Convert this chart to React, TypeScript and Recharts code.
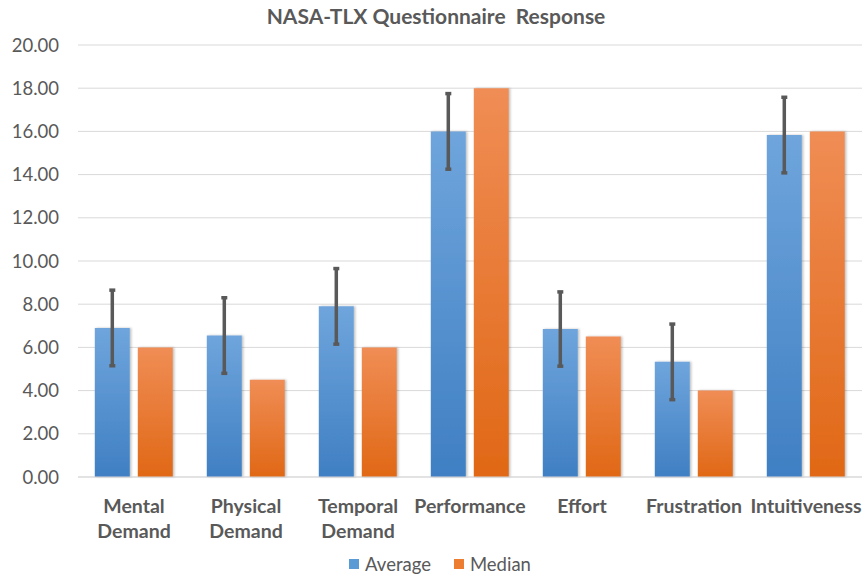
import { Bar, BarChart, CartesianGrid, ErrorBar, Legend, XAxis, YAxis } from 'recharts';

const categories = ['Mental Demand', 'Physical Demand', 'Temporal Demand', 'Performance', 'Effort', 'Frustration', 'Intuitiveness'];
const average = [6.9, 6.55, 7.9, 16.0, 6.85, 5.33, 15.83];
const median = [6.0, 4.5, 6.0, 18.0, 6.5, 4.0, 16.0];
const averageErr = [1.75, 1.75, 1.75, 1.75, 1.72, 1.75, 1.75];
const yTicks = [0, 2, 4, 6, 8, 10, 12, 14, 16, 18, 20];

const data = categories.map((name, i) => ({
  name,
  average: average[i],
  median: median[i],
  err: averageErr[i],
}));

const textColor = '#595959';
const font = 'Lato, "Open Sans", sans-serif';

function CategoryTick(props: any) {
  const { x, y, payload } = props;
  const words: string[] = payload.value.split(' ');
  return (
    <g transform={`translate(${x},${y})`}>
      {words.map((w, i) => (
        <text
          key={i}
          x={0}
          y={28 + i * 25}
          textAnchor="middle"
          fill={textColor}
          fontSize={19.5}
          fontWeight="bold"
          fontFamily={font}
        >
          {w}
        </text>
      ))}
    </g>
  );
}

function LegendBox() {
  const items = [
    { label: 'Average', color: '#5b9bd5' },
    { label: 'Median', color: '#ed7d31' },
  ];
  return (
    <div style={{ display: 'flex', justifyContent: 'center', gap: 23, fontFamily: font, fontSize: 18.5, color: textColor, marginLeft: 18 }}>
      {items.map((it) => (
        <div key={it.label} style={{ display: 'flex', alignItems: 'center', gap: 6 }}>
          <span style={{ width: 10, height: 10, background: it.color, display: 'inline-block' }} />
          <span>{it.label}</span>
        </div>
      ))}
    </div>
  );
}

export default function App() {
  return (
    <div style={{ position: 'absolute', left: 0, top: 0, width: 862, height: 576, background: '#fff' }}>
      <div
        style={{
          position: 'absolute',
          top: 3,
          left: 0,
          width: 872,
          textAlign: 'center',
          fontFamily: font,
          fontWeight: 'bold',
          fontSize: 21,
          color: textColor,
          whiteSpace: 'pre',
        }}
      >
        {'NASA-TLX Questionnaire  Response'}
      </div>
      <BarChart
        width={862}
        height={576}
        data={data}
        margin={{ top: 45, right: 0, bottom: 0, left: 0 }}
        barCategoryGap="15%"
        barGap={8}
      >
        <defs>
          <linearGradient id="gradAvg" x1="0" y1="0" x2="0" y2="1">
            <stop offset="0%" stopColor="#6fa5dc" />
            <stop offset="100%" stopColor="#3f7fc3" />
          </linearGradient>
          <linearGradient id="gradMed" x1="0" y1="0" x2="0" y2="1">
            <stop offset="0%" stopColor="#f08d55" />
            <stop offset="100%" stopColor="#e06816" />
          </linearGradient>
          <filter id="shadow" x="-20%" y="-5%" width="140%" height="110%">
            <feDropShadow dx="1.5" dy="0" stdDeviation="1.2" floodColor="#000" floodOpacity="0.25" />
          </filter>
        </defs>
        <CartesianGrid vertical={false} stroke="#d9d9d9" />
        <XAxis
          dataKey="name"
          tick={<CategoryTick />}
          tickLine={false}
          axisLine={{ stroke: '#d9d9d9' }}
          interval={0}
          height={77}
        />
        <YAxis
          domain={[0, 20]}
          ticks={yTicks}
          tickFormatter={(v: number) => v.toFixed(2)}
          tick={{ fill: textColor, fontSize: 18.5, fontFamily: font }}
          tickLine={false}
          axisLine={false}
          tickMargin={13}
          width={78}
        />
        <Legend content={<LegendBox />} verticalAlign="bottom" wrapperStyle={{ bottom: 1 }} />
        <Bar dataKey="average" fill="url(#gradAvg)" filter="url(#shadow)" isAnimationActive={false}>
          <ErrorBar dataKey="err" direction="y" width={3} strokeWidth={3.5} stroke="#595959" />
        </Bar>
        <Bar dataKey="median" fill="url(#gradMed)" filter="url(#shadow)" isAnimationActive={false} />
      </BarChart>
    </div>
  );
}
